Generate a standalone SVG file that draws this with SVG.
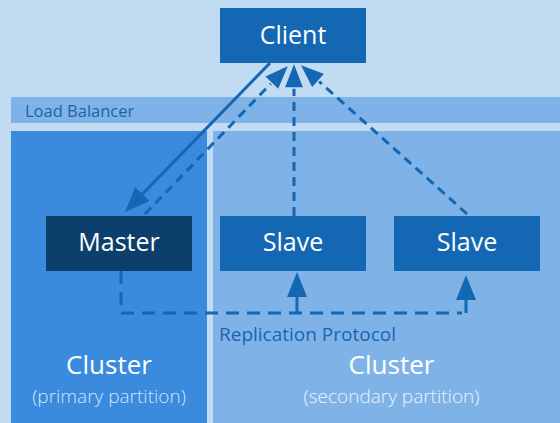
<svg xmlns="http://www.w3.org/2000/svg" width="560" height="423" viewBox="0 0 560 423">
  <style>
    .node rect { fill: #1467b3; }
    #master rect { fill: #0d3f6d; }
    .node text { font-family: "Open Sans", "Liberation Sans", sans-serif; font-size: 25px; fill: #ffffff; text-anchor: middle; }
    .label { font-family: "Open Sans", "Liberation Sans", sans-serif; fill: #1a64ad; }
    .cluster-title { font-family: "Open Sans", "Liberation Sans", sans-serif; font-size: 26px; fill: #ffffff; text-anchor: middle; }
    .cluster-sub { font-family: "Open Sans", "Liberation Sans", sans-serif; font-size: 19px; font-weight: 300; text-anchor: middle; }
    .link { fill: none; stroke: #1467b3; stroke-width: 3; }
    .dash-short { stroke-dasharray: 9 6; }
    .dash-long { stroke-dasharray: 13 8; }
  </style>
  <defs>
    <marker id="arrow" viewBox="0 0 25 20" refX="0" refY="10" markerWidth="25" markerHeight="20" markerUnits="userSpaceOnUse" orient="auto">
      <path d="M0,0 L25,10 L0,20 Z" fill="#1467b3"/>
    </marker>
    <!-- arrowhead with a thin halo so the heads meeting at the client stay apart -->
    <marker id="arrow-cut" viewBox="-2 -2 30 24" refX="0" refY="10" markerWidth="30" markerHeight="24" markerUnits="userSpaceOnUse" orient="auto">
      <path d="M0,0 L26,10 L0,20 Z" fill="#1467b3" stroke="#c1dbf3" stroke-width="1.6" stroke-linejoin="miter"/>
    </marker>
  </defs>

  <!-- backdrop and regions -->
  <rect x="0" y="0" width="560" height="423" fill="#c1dbf3"/>
  <g id="load-balancer">
    <rect x="11" y="97" width="549" height="26" fill="#7fb3e8"/>
    <text class="label" x="25" y="117" font-size="16.5">Load Balancer</text>
  </g>
  <g id="cluster-primary">
    <rect x="11" y="131" width="196" height="292" fill="#3a8ade"/>
    <text class="cluster-title" x="109" y="374">Cluster</text>
    <text class="cluster-sub" x="109" y="403" fill="#d3e5f8">(primary partition)</text>
  </g>
  <g id="cluster-secondary">
    <rect x="213" y="131" width="347" height="292" fill="#7fb3e8"/>
    <text class="cluster-title" x="391.5" y="374">Cluster</text>
    <text class="cluster-sub" x="391.5" y="403" fill="#eaf3fc">(secondary partition)</text>
  </g>

  <!-- connectors -->
  <g id="connectors">
    <!-- client to master (request) -->
    <line class="link" x1="270" y1="63" x2="142.4" y2="194.1" stroke-width="2.5" marker-end="url(#arrow)"/>
    <!-- responses back to the client -->
    <line class="link dash-short" x1="294" y1="216" x2="294" y2="88" marker-end="url(#arrow-cut)"/>
    <line class="link dash-short" x1="145" y1="214" x2="271.3" y2="83.2" marker-end="url(#arrow-cut)"/>
    <line class="link dash-short" x1="467" y1="214" x2="318.6" y2="81" marker-end="url(#arrow-cut)"/>
    <!-- replication from master to slaves -->
    <path class="link dash-long" d="M121,271 V313 H462"/>
    <line class="link" x1="297" y1="313" x2="297" y2="297" marker-end="url(#arrow)"/>
    <line class="link" x1="466" y1="313" x2="466" y2="300" marker-end="url(#arrow)"/>
    <text class="label" x="219" y="341" font-size="19">Replication Protocol</text>
  </g>

  <!-- nodes -->
  <g id="client" class="node">
    <rect x="220" y="8" width="146" height="55"/>
    <text x="293" y="44">Client</text>
  </g>
  <g id="master" class="node">
    <rect x="46" y="216" width="146" height="55"/>
    <text x="119" y="251">Master</text>
  </g>
  <g id="slave-1" class="node">
    <rect x="220" y="216" width="146" height="55"/>
    <text x="293" y="251">Slave</text>
  </g>
  <g id="slave-2" class="node">
    <rect x="394" y="216" width="146" height="55"/>
    <text x="467" y="251">Slave</text>
  </g>
</svg>
